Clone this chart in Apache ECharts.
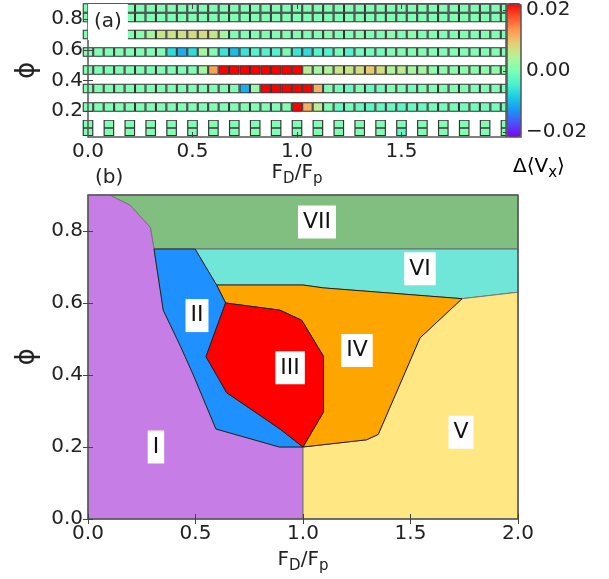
<!DOCTYPE html>
<html>
<head>
<meta charset="utf-8">
<script src="https://cdn.jsdelivr.net/npm/echarts@6/dist/echarts.min.js"></script>
<style>
  html, body { margin: 0; padding: 0; background: #ffffff; }
  #chart { width: 609px; height: 579px; }
</style>
</head>
<body>
<div id="chart"></div>
<script>
// ---------- panel (a): velocity difference on the (F_D/F_p, phi) sampling grid ----------
const fdFine = [0, 0.05, 0.1, 0.15, 0.2, 0.25, 0.3, 0.35, 0.4, 0.45,
                0.5, 0.55, 0.6, 0.65, 0.7, 0.75, 0.8, 0.85, 0.9, 0.95,
                1.0, 1.05, 1.1, 1.15, 1.2, 1.25, 1.3, 1.35, 1.4, 1.45,
                1.5, 1.55, 1.6, 1.65, 1.7, 1.75, 1.8, 1.85, 1.9, 1.95, 2.0];
const fdCoarse = [0, 0.1, 0.2, 0.3, 0.4, 0.5, 0.6, 0.7, 0.8, 0.9, 1.0,
                  1.1, 1.2, 1.3, 1.4, 1.5, 1.6, 1.7, 1.8, 1.9, 2.0];

const rowPhi = [0.874, 0.812, 0.700, 0.586, 0.468, 0.347, 0.226];
const dvPhi874 = [0,0,0,0,0, 0,0,0,0,0, 0,0,0,0,0, 0,0,0,0,0, 0,0,0,0,0, 0,0,0,0,0, 0,0,0,0,0, 0,0,0,0,0, 0];
const dvPhi812 = [0,0,0,0,0, 0,0,0,0,0, 0,0,0,0,0, 0,0,0,0,0, 0,0,0,0,0, 0,0,0,0,0, 0,0,0,0,0, 0,0,0,0,0, 0];
const dvPhi700 = [0,0,0,0,0, 0.001,0.003,0.006,0.006,0.0065, 0.007,0.007,0.006,0.003,0, 0,0,0,0,0,
                  0,0,0,0.001,0, 0,0.001,0,0,0.001, 0,0.001,0,0,0, 0,0,0,0,0, 0];
const dvPhi586 = [0,0,0,0,0, 0,0,0,-0.007,-0.011, -0.007,0.003,0,-0.006,-0.010, -0.006,-0.004,-0.004,-0.004,-0.001,
                  -0.006,-0.007,-0.004,-0.004,-0.001, -0.004,-0.001,-0.001,-0.001,0, 0,0,0,0,0, 0,0,0,0,0, 0];
const dvPhi468 = [0,0,0,0,0, 0,0,0,0,0, 0,0.003,0.012,0.022,0.022, 0.022,0.022,0.022,0.022,0.022,
                  0.022,0.005,0.003,0.004,0.006, 0.006,0.007,0.009,0.007,0.004, 0.005,0.003,0.003,0.001,0.001,
                  0.001,0.001,0.001,0.001,0.001, 0.001];
const dvPhi347 = [0,0,0,0,0, 0,0,0,0,0, 0,0,0,0,0, -0.011,0.002,0.022,0.022,0.022,
                  0.022,0.022,0.011,0,-0.001, -0.002,0,-0.002,-0.001,0, 0,-0.001,0,0,0, 0,0,0,0,0, 0];
const dvPhi226 = [0,0,0,0,0, 0,0,0,0,0, 0,0,0,0,0, 0,0,0,0,0,
                  0.022,0.011,0.005,0,-0.002, -0.001,-0.002,-0.003,-0.002,-0.002, -0.003,-0.002,-0.002,-0.001,-0.001,
                  -0.001,-0.001,-0.001,-0.001,-0.001, -0.001];
const rowDV = [dvPhi874, dvPhi812, dvPhi700, dvPhi586, dvPhi468, dvPhi347, dvPhi226];

// lowest density: coarser drive step, two stacked sub-rows
const lowPhi = [0.115, 0.063];
const dvLowTop = [0,0,0,0,0, 0,0,0,0,0, 0,0,0,0,0, 0,0,0,0,0, 0];
const dvLowBottom = [0,0,0,0,0, 0,0,0,0,0, 0,0,0,0,0, -0.003,0,0,0,0, 0];
const lowDV = [dvLowTop, dvLowBottom];

const dvRange = [-0.0216, 0.0216];
const dvTicks = [-0.02, 0, 0.02];
const phiTicksA = [0.2, 0.4, 0.6, 0.8];
const fdTicksA = [0, 0.5, 1.0, 1.5];

// ---------- panel (b): dynamic phase regions ----------
const regionNames = ['I', 'II', 'III', 'IV', 'V', 'VI', 'VII'];
const labelFD  = [0.316, 0.507, 0.94, 1.251, 1.735, 1.544, 1.065];
const labelPhi = [0.200, 0.565, 0.42, 0.468, 0.241, 0.695, 0.825];

const regionI   = [[0,0],[0,0.9],[0.1,0.9],[0.195,0.872],[0.29,0.81],[0.307,0.75],[0.35,0.58],
                   [0.43,0.48],[0.49,0.40],[0.595,0.25],[0.89,0.2],[1.0,0.2],[1.0,0]];
const regionII  = [[0.307,0.75],[0.498,0.75],[0.598,0.65],[0.640,0.60],[0.549,0.451],[0.645,0.351],
                   [0.893,0.25],[1.0,0.2],[0.89,0.2],[0.595,0.25],[0.49,0.40],[0.43,0.48],[0.35,0.58]];
const regionIII = [[0.640,0.60],[0.893,0.58],[0.994,0.552],[1.095,0.452],[1.095,0.297],[1.0,0.2],
                   [0.893,0.25],[0.645,0.351],[0.549,0.451]];
const regionIV  = [[0.598,0.65],[1.0,0.65],[1.095,0.642],[1.59,0.619],[1.74,0.612],[1.544,0.503],
                   [1.35,0.235],[1.296,0.22],[1.0,0.2],[1.095,0.297],[1.095,0.452],[0.994,0.552],
                   [0.893,0.58],[0.640,0.60]];
const regionV   = [[1.0,0],[2.0,0],[2.0,0.63],[1.74,0.612],[1.544,0.503],[1.35,0.235],[1.296,0.22],[1.0,0.2]];
const regionVI  = [[0.498,0.75],[2.0,0.75],[2.0,0.63],[1.74,0.612],[1.59,0.619],[1.095,0.642],[1.0,0.65],[0.598,0.65]];
const regionVII = [[0.1,0.9],[2.0,0.9],[2.0,0.75],[0.307,0.75],[0.29,0.81],[0.195,0.872]];
const regionShapes = [regionI, regionII, regionIII, regionIV, regionV, regionVI, regionVII];
const regionColors = ['#c77de6', '#1e90ff', '#ff0000', '#ffa500', '#ffe784', '#70e6d9', '#80bf80'];
const regionEdges  = ['#777777', '#222222', '#222222', '#222222', '#777777', '#666666', '#777777'];
const drawOrder = [6, 5, 0, 4, 3, 1, 2];

const fdTicksB = [0, 0.5, 1.0, 1.5, 2.0];
const phiTicksB = [0, 0.2, 0.4, 0.6, 0.8];

// matplotlib "rainbow" colour ramp
const rainbow = ['#8000ff', '#4d4ffc', '#1a96f3', '#1acee3', '#4df3ce', '#80ffb4',
                 '#b3f396', '#e6ce74', '#ff964f', '#ff4f28', '#ff0000'];

// ---------- build chart data ----------
const cellData = [];
rowPhi.forEach((phi, r) => {
  fdFine.forEach((fd, i) => {
    cellData.push({ value: [fd, phi, rowDV[r][i]], symbolSize: [9.5, 8.5] });
  });
});
lowPhi.forEach((phi, r) => {
  fdCoarse.forEach((fd, i) => {
    cellData.push({ value: [fd, phi, lowDV[r][i]], symbolSize: [9.5, 7.2] });
  });
});

const FONT = 'DejaVu Sans';
const TXT = '#222222';
const fmt1 = v => v.toFixed(1);

function frameAxis(extra) {
  return Object.assign({
    type: 'value',
    axisLine: { show: false },
    splitLine: { show: false },
    axisTick: { show: true, inside: true, length: 5, lineStyle: { color: '#444', width: 1 } },
    axisLabel: { show: false }
  }, extra);
}

const nameRich = {
  n: { fontFamily: FONT, fontSize: 20, color: TXT, lineHeight: 28, verticalAlign: 'middle' },
  s: { fontFamily: FONT, fontSize: 15, color: TXT, lineHeight: 16, verticalAlign: 'bottom' }
};
const fdName = '{n|F}{s|D}{n|/F}{s|p}';

const option = {
  animation: false,
  backgroundColor: '#ffffff',
  textStyle: { fontFamily: FONT },
  grid: [
    { left: 88, top: 4, width: 418, height: 133, show: true, borderColor: '#555', borderWidth: 1.5, backgroundColor: 'transparent', z: 10 },
    { left: 507, top: 3, width: 14, height: 134, show: true, borderColor: '#555', borderWidth: 1.5, backgroundColor: 'transparent', z: 10 },
    { left: 88, top: 195, width: 430, height: 325, show: true, borderColor: '#555', borderWidth: 1.5, backgroundColor: 'transparent', z: 10 }
  ],
  xAxis: [
    frameAxis({
      gridIndex: 0, min: 0, max: 2, position: 'bottom', z: 10,
      axisTick: { show: true, inside: true, length: 5, customValues: [0.5, 1.0, 1.5], lineStyle: { color: '#444' } },
      axisLabel: { show: true, customValues: fdTicksA, formatter: fmt1, fontSize: 20, color: TXT, margin: 5, fontFamily: FONT },
      name: fdName, nameLocation: 'middle', nameGap: 22,
      nameTextStyle: { rich: nameRich }
    }),
    frameAxis({
      gridIndex: 0, min: 0, max: 2, position: 'top', z: 10,
      axisTick: { show: true, inside: true, length: 5, customValues: [0.5, 1.0, 1.5], lineStyle: { color: '#444' } }
    }),
    { type: 'value', gridIndex: 1, min: 0, max: 1, show: false },
    frameAxis({
      gridIndex: 2, min: 0, max: 2, position: 'bottom', z: 10,
      axisTick: { show: true, inside: true, length: 5, customValues: fdTicksB, lineStyle: { color: '#444' } },
      axisLabel: { show: true, customValues: fdTicksB, formatter: fmt1, fontSize: 20, color: TXT, margin: 5, fontFamily: FONT },
      name: fdName, nameLocation: 'middle', nameGap: 27,
      nameTextStyle: { rich: nameRich }
    }),
    frameAxis({
      gridIndex: 2, min: 0, max: 2, position: 'top', z: 10,
      axisTick: { show: true, inside: true, length: 5, customValues: fdTicksB, lineStyle: { color: '#444' } }
    })
  ],
  yAxis: [
    frameAxis({
      gridIndex: 0, min: 0.03, max: 0.9, position: 'left', z: 10,
      axisTick: { show: true, inside: true, length: 5, customValues: phiTicksA, lineStyle: { color: '#444' } },
      axisLabel: { show: true, customValues: phiTicksA, formatter: fmt1, fontSize: 20, color: TXT, margin: 5, fontFamily: FONT },
      name: 'ϕ', nameLocation: 'middle', nameRotate: 90, nameGap: 42,
      nameTextStyle: { fontSize: 26, color: TXT, fontFamily: FONT }
    }),
    frameAxis({
      gridIndex: 0, min: 0.03, max: 0.9, position: 'right', z: 10,
      axisTick: { show: true, inside: true, length: 5, customValues: phiTicksA, lineStyle: { color: '#444' } }
    }),
    frameAxis({
      gridIndex: 1, min: dvRange[0], max: dvRange[1], position: 'right', z: 10,
      axisTick: { show: true, inside: true, length: 4, customValues: dvTicks, lineStyle: { color: '#444' } },
      axisLabel: {
        show: true, customValues: dvTicks, fontSize: 20, color: TXT, margin: 5, fontFamily: FONT,
        formatter: v => (v < 0 ? '\u2212' : '') + Math.abs(v).toFixed(2)
      }
    }),
    frameAxis({
      gridIndex: 2, min: 0, max: 0.9, position: 'left', z: 10,
      axisTick: { show: true, inside: true, length: 5, customValues: phiTicksB, lineStyle: { color: '#444' } },
      axisLabel: { show: true, customValues: phiTicksB, formatter: fmt1, fontSize: 20, color: TXT, margin: 5, fontFamily: FONT },
      name: 'ϕ', nameLocation: 'middle', nameRotate: 90, nameGap: 42,
      nameTextStyle: { fontSize: 26, color: TXT, fontFamily: FONT }
    }),
    frameAxis({
      gridIndex: 2, min: 0, max: 0.9, position: 'right', z: 10,
      axisTick: { show: true, inside: true, length: 5, customValues: phiTicksB, lineStyle: { color: '#444' } }
    })
  ],
  visualMap: {
    type: 'continuous',
    seriesIndex: 0,
    dimension: 2,
    min: dvRange[0], max: dvRange[1],
    calculable: false,
    orient: 'vertical',
    left: 507, top: 3, padding: 0,
    itemWidth: 14, itemHeight: 134,
    text: null,
    inRange: { color: rainbow },
    z: 5
  },
  series: [
    {
      type: 'scatter',
      xAxisIndex: 0, yAxisIndex: 0,
      symbol: 'rect',
      clip: true,
      data: cellData,
      itemStyle: { borderColor: '#333333', borderWidth: 1, opacity: 1 },
      emphasis: { disabled: true }
    },
    {
      type: 'custom',
      xAxisIndex: 3, yAxisIndex: 3,
      data: drawOrder.map(k => [labelFD[k], labelPhi[k], k]),
      renderItem: function (params, api) {
        const k = drawOrder[params.dataIndex];
        const pts = regionShapes[k].map(p => api.coord(p));
        return {
          type: 'polygon',
          shape: { points: pts },
          style: { fill: regionColors[k], stroke: regionEdges[k], lineWidth: 1 }
        };
      },
      silent: true
    },
    {
      // phase names in white boxes
      type: 'custom',
      xAxisIndex: 3, yAxisIndex: 3,
      data: regionNames.map((nm, k) => [labelFD[k], labelPhi[k]]),
      renderItem: function (params, api) {
        const c = api.coord([api.value(0), api.value(1)]);
        return {
          type: 'text',
          x: c[0], y: c[1],
          z2: 100,
          style: {
            text: regionNames[params.dataIndex],
            font: '22px "DejaVu Sans"',
            fill: '#111111',
            align: 'center', verticalAlign: 'middle',
            backgroundColor: '#ffffff',
            padding: [6, 5, 5, 5]
          }
        };
      },
      z: 6,
      silent: true
    }
  ],
  graphic: [
    {
      type: 'text', left: 88, top: 4, z: 20,
      style: {
        text: '(a)', font: '20px "DejaVu Sans"', fill: TXT,
        backgroundColor: '#ffffff', padding: [8, 6, 8, 6]
      }
    },
    {
      type: 'text', left: 95, top: 168, z: 20,
      style: { text: '(b)', font: '20px "DejaVu Sans"', fill: TXT }
    },
    {
      type: 'text', left: 513, top: 157, z: 20,
      style: {
        text: '{n|Δ⟨V}{s|x}{n|⟩}',
        rich: nameRich
      }
    }
  ]
};

const chart = echarts.init(document.getElementById('chart'), null, { renderer: 'canvas' });
chart.setOption(option);
</script>
</body>
</html>
